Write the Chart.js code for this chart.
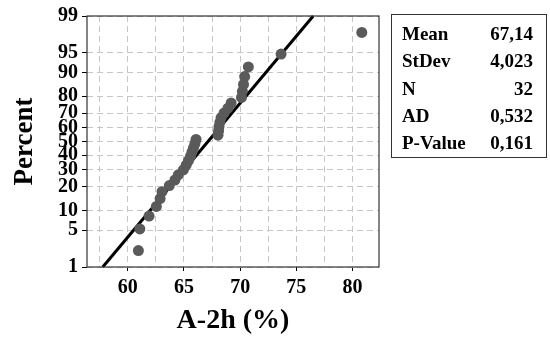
<!DOCTYPE html>
<html>
<head>
<meta charset="utf-8">
<script src="https://cdn.jsdelivr.net/npm/chart.js@4.4.1/dist/chart.umd.min.js"></script>
<style>
  body { margin: 0; background: #fff; }
  #wrap { position: relative; width: 550px; height: 346px; }
  #stats {
    position: absolute; left: 391px; top: 14px; width: 131px; height: 137px;
    border: 1px solid #333; padding: 5px 13px 0 10px;
    font: bold 19px 'Liberation Serif', 'Times New Roman', serif; color: #000;
  }
  #stats div { display: flex; justify-content: space-between; line-height: 27.3px; }
</style>
</head>
<body>
<div id="wrap">
  <canvas id="chart" width="550" height="346"></canvas>
  <div id="stats"></div>
</div>
<script>
// measured values, sorted (A-2h %)
const values = [60.95, 61.08, 61.9, 62.55, 62.88, 63.05, 63.7, 64.2, 64.5, 64.95,
  65.2, 65.4, 65.58, 65.72, 65.85, 65.98, 66.08, 68.03, 68.08, 68.12,
  68.2, 68.3, 68.57, 68.92, 69.2, 70.12, 70.2, 70.3, 70.4, 70.73, 73.64, 80.82];
// plotted percent for each point
const percents = [2.16, 5.25, 8.33, 11.42, 14.51, 17.59, 20.68, 23.77, 26.85, 29.94,
  33.02, 36.11, 39.2, 42.28, 45.37, 48.46, 51.54, 54.63, 57.72, 60.8,
  63.89, 66.98, 70.06, 73.15, 76.23, 79.32, 82.41, 85.49, 88.58, 91.67, 94.75, 97.84];
// fitted normal line ends
const fitX = [57.78, 76.5];
const fitPct = [1, 99];

const xTicks = [57.5, 60, 62.5, 65, 67.5, 70, 72.5, 75, 77.5, 80];
const yTicks = [1, 5, 10, 20, 30, 40, 50, 60, 70, 80, 90, 95, 99];

const statLabels = ['Mean', 'StDev', 'N', 'AD', 'P-Value'];
const statValues = ['67,14', '4,023', '32', '0,532', '0,161'];

document.getElementById('stats').innerHTML = statLabels
  .map((l, i) => `<div><span>${l}</span><span>${statValues[i]}</span></div>`)
  .join('');

// inverse normal cdf (Acklam)
function normInv(p) {
  const a = [-39.69683028665376, 220.9460984245205, -275.9285104469687, 138.357751867269, -30.66479806614716, 2.506628277459239];
  const b = [-54.47609879822406, 161.5858368580409, -155.6989798598866, 66.80131188771972, -13.28068155288572];
  const c = [-0.007784894002430293, -0.3223964580411365, -2.400758277161838, -2.549732539343734, 4.374664141464968, 2.938163982698783];
  const d = [0.007784695709041462, 0.3224671290700398, 2.445134137142996, 3.754408661907416];
  const pl = 0.02425;
  let q, r;
  if (p < pl) {
    q = Math.sqrt(-2 * Math.log(p));
    return (((((c[0] * q + c[1]) * q + c[2]) * q + c[3]) * q + c[4]) * q + c[5]) / ((((d[0] * q + d[1]) * q + d[2]) * q + d[3]) * q + 1);
  }
  if (p > 1 - pl) {
    q = Math.sqrt(-2 * Math.log(1 - p));
    return -(((((c[0] * q + c[1]) * q + c[2]) * q + c[3]) * q + c[4]) * q + c[5]) / ((((d[0] * q + d[1]) * q + d[2]) * q + d[3]) * q + 1);
  }
  q = p - 0.5;
  r = q * q;
  return (((((a[0] * r + a[1]) * r + a[2]) * r + a[3]) * r + a[4]) * r + a[5]) * q / (((((b[0] * r + b[1]) * r + b[2]) * r + b[3]) * r + b[4]) * r + 1);
}

// normal probability axis
class ProbabilityScale extends Chart.LinearScale {
  static id = 'probability';
  determineDataLimits() {
    this.min = yTicks[0];
    this.max = yTicks[yTicks.length - 1];
  }
  buildTicks() {
    return yTicks.map((v) => ({ value: v }));
  }
  configure() {
    super.configure();
    this._startValue = normInv(this.min / 100);
    this._endValue = normInv(this.max / 100);
    this._valueRange = this._endValue - this._startValue;
  }
  getPixelForValue(value) {
    if (value === null || value === undefined) return NaN;
    return this.getPixelForDecimal((normInv(value / 100) - this._startValue) / this._valueRange);
  }
}
Chart.register(ProbabilityScale);

const framePlugin = {
  id: 'frame',
  afterDraw(chart) {
    const { ctx, chartArea: a } = chart;
    ctx.save();
    ctx.strokeStyle = '#333';
    ctx.lineWidth = 1.2;
    ctx.strokeRect(a.left, a.top, a.right - a.left, a.bottom - a.top);
    ctx.restore();
  },
};

const serif = "'Liberation Serif', 'Times New Roman', serif";
Chart.defaults.font.family = serif;
Chart.defaults.font.weight = 'bold';
Chart.defaults.color = '#000';

new Chart(document.getElementById('chart'), {
  type: 'scatter',
  data: {
    datasets: [
      {
        data: values.map((v, i) => ({ x: v, y: percents[i] })),
        backgroundColor: '#5a5a5a',
        borderWidth: 0,
        pointRadius: 5.5,
        order: 0,
      },
      {
        data: fitX.map((v, i) => ({ x: v, y: fitPct[i] })),
        showLine: true,
        borderColor: '#000',
        borderWidth: 3,
        pointRadius: 0,
        order: 1,
      },
    ],
  },
  plugins: [framePlugin],
  options: {
    responsive: false,
    animation: false,
    layout: { padding: { top: 14, right: 171, left: 0, bottom: 0 } },
    plugins: { legend: { display: false }, tooltip: { enabled: false } },
    scales: {
      x: {
        type: 'linear',
        min: 56.38,
        max: 82.35,
        afterBuildTicks: (s) => { s.ticks = xTicks.map((v) => ({ value: v })); },
        afterFit: (s) => { s.height = 79; },
        ticks: {
          font: { family: serif, size: 20, weight: 'bold' },
          padding: 5,
          autoSkip: false,
          maxRotation: 0,
          callback: (v) => (v % 5 === 0 ? v : ''),
        },
        grid: {
          color: '#c6c6c6',
          tickLength: 4,
          tickColor: (ctx) => (ctx.tick && ctx.tick.value % 5 === 0 ? '#000' : 'rgba(0,0,0,0)'),
        },
        border: { display: false, dash: [6, 4] },
        title: { display: true, text: 'A-2h (%)', font: { family: serif, size: 28, weight: 'bold' }, padding: { top: 0, bottom: 8 } },
      },
      y: {
        type: 'probability',
        afterFit: (s) => { s.width = 87; },
        ticks: { font: { family: serif, size: 20, weight: 'bold' }, padding: 4, autoSkip: false, callback: (v) => v },
        grid: { color: '#c6c6c6', tickLength: 5, tickColor: '#000' },
        border: { display: false, dash: [6, 4] },
        title: { display: true, text: 'Percent', font: { family: serif, size: 27, weight: 'bold' }, padding: { top: 9, bottom: 0 } },
      },
    },
  },
});
</script>
</body>
</html>
